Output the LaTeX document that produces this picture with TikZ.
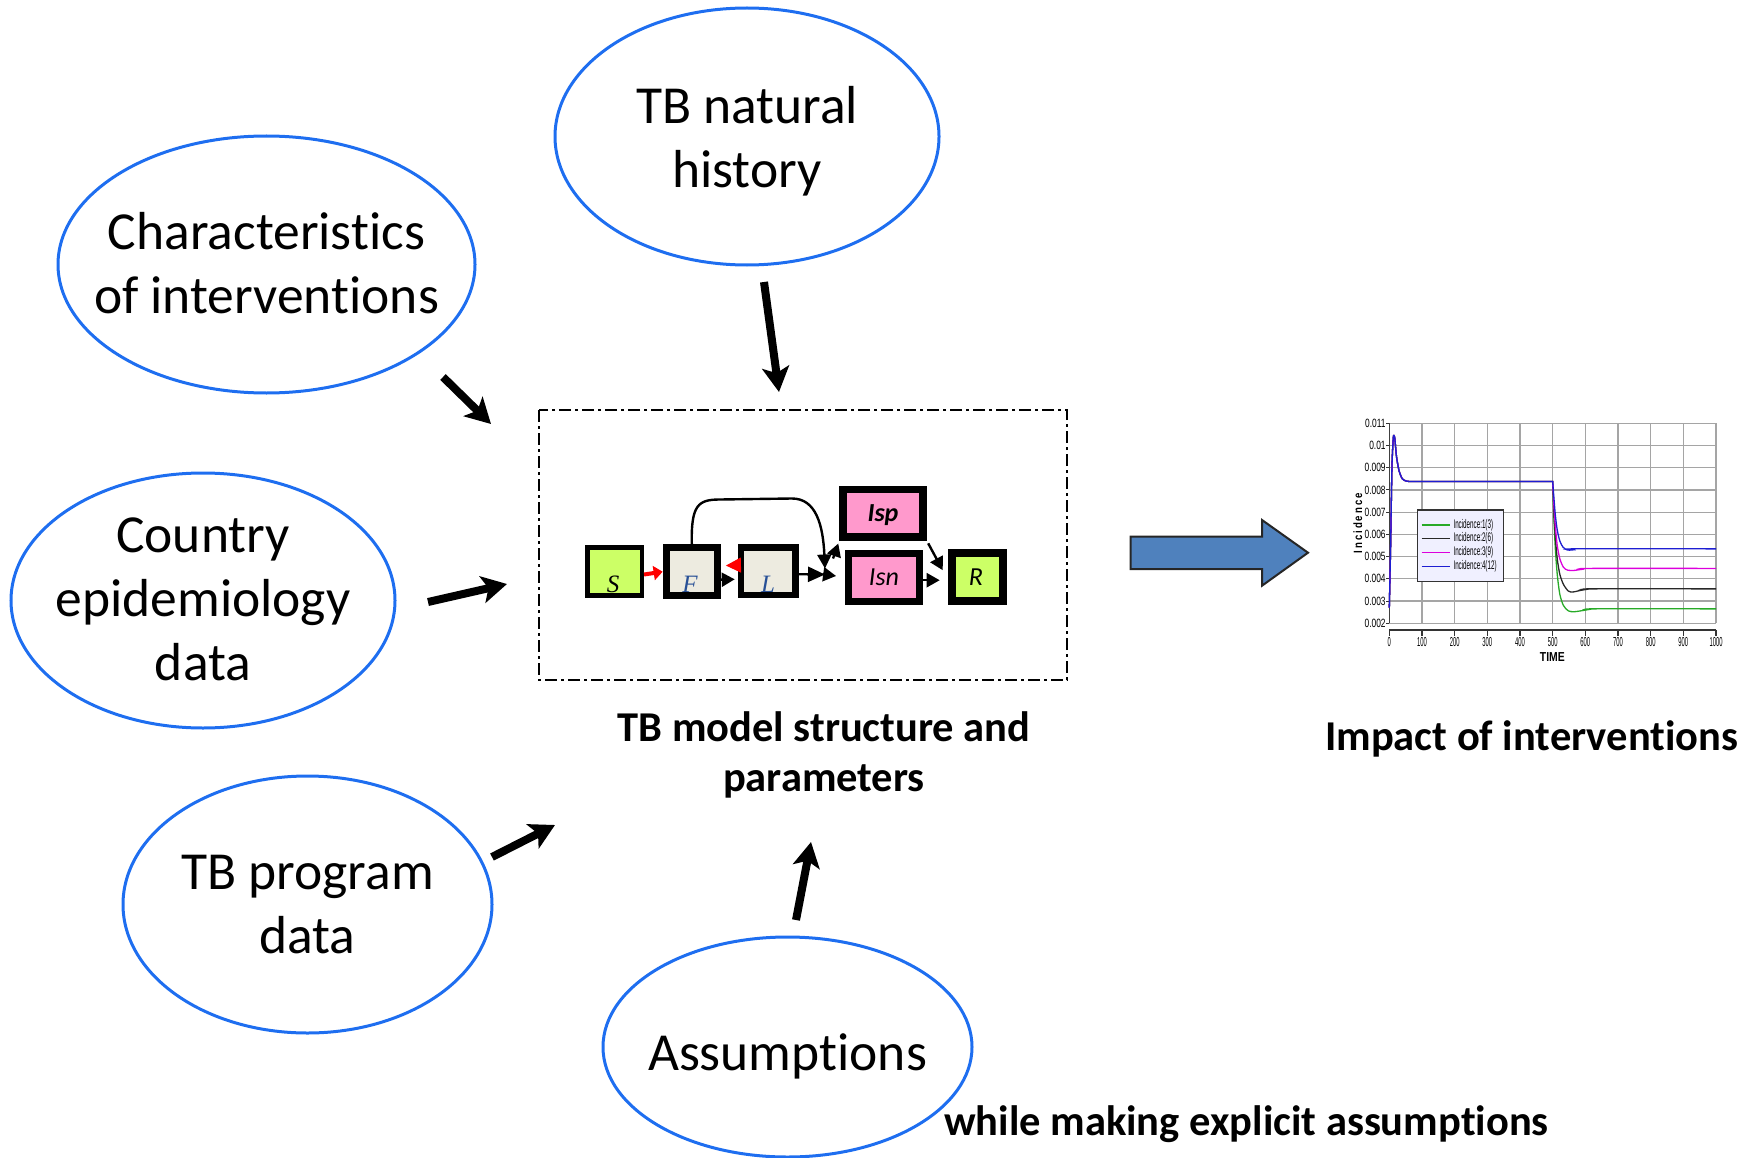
\documentclass[tikz,border=0pt]{standalone}
\usepackage{fontspec}
\setmainfont{Carlito}[Ligatures=NoCommon]
\newfontfamily\serifit{Liberation Serif}
\newfontfamily\chartY[FakeStretch=0.7]{Liberation Sans}
\newfontfamily\chartX[FakeStretch=0.45]{Liberation Sans}
\newfontfamily\chartL[FakeStretch=0.5]{Liberation Sans}
\newfontfamily\chartT[FakeStretch=0.8]{Liberation Sans}
\usetikzlibrary{arrows.meta}
\definecolor{ellblue}{RGB}{30,110,240}
\definecolor{limebox}{RGB}{204,255,102}
\definecolor{beigebox}{RGB}{237,235,224}
\definecolor{pinkbox}{RGB}{255,153,204}
\definecolor{fblue}{RGB}{40,80,150}
\definecolor{arrowblue}{RGB}{79,129,189}
\definecolor{gridgray}{RGB}{165,165,165}
\definecolor{cgreen}{RGB}{40,170,40}
\definecolor{cblack}{RGB}{40,40,40}
\definecolor{cmag}{RGB}{220,0,220}
\definecolor{cblue}{RGB}{30,30,210}
\definecolor{legfill}{RGB}{240,240,255}
\tikzset{
  ell/.style={draw=ellblue, line width=3pt},
  elltext/.style={font=\fontsize{53.5}{64}\selectfont, align=center, inner sep=0pt},
  bigarrow/.style={line width=8pt, -{Stealth[width=27pt,length=25pt,inset=6pt]}},
  mbox/.style={draw=black, rectangle, inner sep=0pt},
  serlab/.style={font=\serifit\itshape\fontsize{25}{25}\selectfont, inner sep=0pt, anchor=base},
  sanlab/.style={font=\itshape\fontsize{26}{26}\selectfont, inner sep=0pt, anchor=base},
  blk/.style={black, line width=2.4pt, -{Triangle[width=14pt,length=13pt]}},
  redarr/.style={red, line width=4pt, -{Triangle[width=14pt,length=9pt]}},
  gridline/.style={gridgray, line width=1.2pt},
  caption/.style={font=\bfseries\fontsize{42.5}{50}\selectfont, align=center, inner sep=0pt},
  curve/.style={line width=1.3pt},
}
\begin{document}
\begin{tikzpicture}[x=1pt, y=-1pt]
\useasboundingbox (0,0) rectangle (1752,1158);

% ---------- ellipses ----------
\draw[ell] (747,136.5) ellipse [x radius=192pt, y radius=128.5pt];
\node[elltext] (hist) at (747,141) {TB natural\\history};
\draw[ell] (266.5,264.5) ellipse [x radius=208.5pt, y radius=128.5pt];
\node[elltext] (chars) at (266.5,263) {Characteristics\\of interventions};
\draw[ell] (203,600.5) ellipse [x radius=192pt, y radius=127.5pt];
\node[elltext] (ctry) at (203,599) {Country\\epidemiology\\data};
\draw[ell] (307.5,904.5) ellipse [x radius=184.5pt, y radius=128.5pt];
\node[elltext] (prog) at (307.5,904.5) {TB program\\data};
\draw[ell] (787.5,1047) ellipse [x radius=184.5pt, y radius=110pt];
\node[elltext] (assum) at (787.5,1056) {Assumptions};

% ---------- black input arrows ----------
\coordinate (h1) at (764,282);  \coordinate (h2) at (779,392);
\coordinate (c1) at (443,377);  \coordinate (c2) at (491,424);
\coordinate (e1) at (428,602);  \coordinate (e2) at (507,584);
\coordinate (p1) at (492,857);  \coordinate (p2) at (555,825);
\coordinate (s1) at (796,920);  \coordinate (s2) at (811,842);
\draw[bigarrow] (h1) -- (h2);
\draw[bigarrow] (c1) -- (c2);
\draw[bigarrow] (e1) -- (e2);
\draw[bigarrow] (p1) -- (p2);
\draw[bigarrow] (s1) -- (s2);

% ---------- model box ----------
\draw[line width=2pt, dash pattern=on 12pt off 4pt on 3pt off 4pt] (539,410) rectangle (1067,680);

\node[mbox, fill=limebox, line width=4.5pt, minimum width=54.5pt, minimum height=48pt] (S) at (614.5,571.5) {};
\node[mbox, fill=beigebox, line width=7pt, minimum width=51.3pt, minimum height=48.3pt] (F) at (691.8,571.7) {};
\node[mbox, fill=beigebox, line width=6.7pt, minimum width=54.3pt, minimum height=47.6pt] (L) at (768.2,571.2) {};
\node[mbox, fill=pinkbox, line width=7.5pt, minimum width=80pt, minimum height=47.5pt] (Isp) at (883,513.2) {};
\node[mbox, fill=pinkbox, line width=7.4pt, minimum width=71pt, minimum height=48pt] (Isn) at (884.2,577.2) {};
\node[mbox, fill=limebox, line width=8pt, minimum width=51pt, minimum height=47.7pt] (R) at (977.2,577.2) {};

\node[serlab] (Slab) at (613,592.5) {S};
\node[serlab, text=fblue] (Flab) at (690,592.5) {F};
\node[serlab, text=fblue] (Llab) at (768,592.5) {L};
\node[sanlab, font=\bfseries\itshape\fontsize{26}{26}\selectfont] (Isplab) at (883,521.5) {Isp};
\node[sanlab] (Isnlab) at (884,585) {Isn};
\node[sanlab] (Rlab) at (976,585) {R};

\coordinate (J) at (825,574.5);
\draw[redarr] ([yshift=-3pt]S.east) -- (F.west);
\draw[red, line width=1pt, shorten <=3pt, shorten >=5pt, -{Triangle[width=15pt,length=15pt]}] ([yshift=6pt]L.west) -- ([yshift=6pt]F.east);
\draw[blk, shorten >=3pt] ([yshift=-8pt]F.east) -- ([yshift=-8pt]L.west);
\draw[blk, -{Triangle[width=15pt,length=17pt]}] ([yshift=-3pt]L.east) -- (J);
\draw[blk, shorten <=2pt, shorten >=9pt] (J) -- (Isn.west);
\draw[blk, shorten >=3pt] ([xshift=8pt,yshift=16pt]J) -- (Isp.south west);
\draw[blk, -{Triangle[width=14pt,length=14pt]}] (F.north) .. controls (691,505) and (698,499.5) .. (720,499.5)
   -- (792,498.5) .. controls (816,498.5) and (823,525) .. ([yshift=6pt]J);
\draw[blk, shorten <=3pt] (Isp.south east) -- ([xshift=-5pt,yshift=7pt]R.west);
\draw[blk, shorten >=8pt] ([yshift=-3pt]Isn.east) -- ([yshift=-3pt]R.west);

\node[caption] (mcap) at (824,754.5) {TB model structure and\\parameters};

% ---------- big blue arrow ----------
\draw[fill=arrowblue, draw=black!85, line width=2pt]
  (1130.5,536.7) -- (1262,536.7) -- (1262,520) -- (1308,552.7) -- (1262,585.7) -- (1262,569) -- (1130.5,569) -- cycle;

% ---------- chart ----------
\begin{scope}[xshift=1389.3pt, yshift=-623.3pt, x=0.3267pt, y=22.222pt]
  \foreach \t in {0,100,...,1000} \draw[gridline] (\t,0) -- (\t,9);
  \foreach \u in {0,...,9} \draw[gridline] (0,\u) -- (1000,\u);
  \draw[black!75, line width=1.5pt] (0,0) -- (0,9);
  \draw[black!80, line width=2pt] (0,-0.3) -- (1000,-0.3);
  \foreach \t in {0,100,...,1000} {
    \draw[black!80, line width=1.2pt] (\t,-0.3) -- (\t,-0.55);
    \node[font=\chartX\fontsize{13}{13}\selectfont, anchor=north, inner sep=0pt] (xl\t) at (\t,-0.62) {\t};
  }
  \foreach \u/\lab in {0/0.002,1/0.003,2/0.004,3/0.005,4/0.006,5/0.007,6/0.008,7/0.009,8/0.01,9/0.011} {
    \draw[black!80, line width=1pt] (0,\u) -- ++(-3pt,0);
    \node[font=\chartY\fontsize{12}{12}\selectfont, anchor=east, inner sep=0pt] (yl\u) at ([xshift=-3.5pt]0,\u) {\lab};
  }
  \node[font=\chartT\bfseries\fontsize{13}{13}\selectfont, inner sep=0pt] (timelab) at (499,-1.5) {TIME};
  \node[font=\chartT\bfseries\fontsize{12}{12}\selectfont, inner sep=0pt, rotate=90] (inclab) at (-96,4.5) {I\,n\,c\,i\,d\,e\,n\,c\,e};
  % curves
  \foreach \cc/\pts in {
    cgreen/{(500,6.38) (503,5.0) (508,3.4) (514,2.2) (522,1.3) (533,0.8) (548,0.56) (565,0.52) (590,0.57) (610,0.62) (625,0.65) (1000,0.65)},
    cblack/{(500,6.38) (503,5.2) (508,3.9) (514,2.9) (522,2.2) (533,1.75) (548,1.45) (562,1.41) (585,1.48) (605,1.53) (620,1.55) (1000,1.55)},
    cmag/{(500,6.38) (503,5.5) (508,4.4) (514,3.5) (522,2.9) (533,2.52) (546,2.39) (565,2.38) (590,2.43) (610,2.47) (1000,2.47)},
    cblue/{(500,6.38) (503,5.8) (508,4.9) (514,4.2) (522,3.7) (532,3.42) (545,3.3) (558,3.3) (566,3.35) (1000,3.35)}} {
    \draw[\cc, curve] plot[smooth, tension=0.45] coordinates {(0,0.7) (4,3.5) (8,7) (12,8.3) (14,8.45) (17,8.3) (22,7.5) (30,6.85) (40,6.5) (52,6.4) (65,6.38)}
      -- (500,6.38) -- plot[smooth, tension=0.45] coordinates {\pts};
  }
\end{scope}

% legend
\node[draw=black!80, fill=legfill, line width=1.2pt, minimum width=86pt, minimum height=71.7pt, anchor=north west, inner sep=0pt] (leg) at (1416.7,509.3) {};
\foreach \yy/\cc/\tt [count=\k] in {525/cgreen/Incidence:1(3), 538.3/cblack/Incidence:2(6), 552.7/cmag/Incidence:3(9), 566.7/cblue/Incidence:4(12)} {
  \draw[\cc, line width=1.3pt] (1421.7,\yy) -- (1450,\yy);
  \node[font=\chartL\fontsize{12.5}{12.5}\selectfont, anchor=west, inner sep=0pt] (legt\k) at (1453.3,\yy) {\tt};
}

\node[font=\bfseries\fontsize{42.5}{42.5}\selectfont, anchor=base west, inner sep=0pt] (impact) at (1325,750) {Impact of interventions};
\node[font=\bfseries\fontsize{42.5}{42.5}\selectfont, anchor=base west, inner sep=0pt] (whilelab) at (944,1135) {while making explicit assumptions};
\end{tikzpicture}
\end{document}
